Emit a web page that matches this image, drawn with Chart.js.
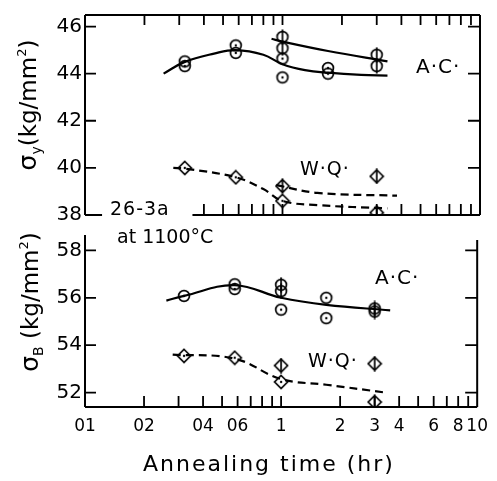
<!DOCTYPE html>
<html>
<head>
<meta charset="utf-8">
<script src="https://cdn.jsdelivr.net/npm/chart.js@4.4.1/dist/chart.umd.min.js"></script>
<style>
  html, body { margin: 0; padding: 0; background: #fff; }
  #wrap { position: relative; width: 497px; height: 481px; }
  canvas { position: absolute; left: 0; }
</style>
</head>
<body>
<div id="wrap">
  <canvas id="topCanvas" width="497" height="230" style="top:0px"></canvas>
  <canvas id="bottomCanvas" width="497" height="261" style="top:220px"></canvas>
</div>
<script>
// ---- x axis (annealing time, hr, log) ----
const timeTicks = [0.1, 0.2, 0.4, 0.6, 1, 2, 3, 4, 6, 8, 10];
const timeTickLabels = ['01', '02', '04', '06', '1', '2', '3', '4', '6', '8', '10'];
const timeMinorTicks = [0.2, 0.3, 0.4, 0.5, 0.6, 0.7, 0.8, 0.9, 1, 2, 3, 4, 5, 6, 7, 8, 9];

// ---- top panel: yield stress sigma_y (kg/mm2) ----
const yTicksTop = [38, 40, 42, 44, 46];
const acYieldTimes = [0.32, 0.32, 0.58, 0.58, 1, 1, 1.7, 1.7];
const acYieldValues = [44.52, 44.32, 45.2, 44.88, 44.64, 43.84, 44.24, 44.0];
const acYieldPhiTimes = [1, 1, 3, 3];
const acYieldPhiValues = [45.56, 45.08, 44.8, 44.32];
const acYieldCurveTimes = [0.25, 0.32, 0.45, 0.58, 0.8, 1, 1.3, 1.7, 2.5, 3.4];
const acYieldCurveValues = [44.0, 44.5, 44.85, 45.0, 44.8, 44.4, 44.15, 44.04, 43.95, 43.92];
const acYieldPhiCurveTimes = [0.88, 1, 1.7, 3.4];
const acYieldPhiCurveValues = [45.48, 45.36, 44.96, 44.52];

const wqYieldTimes = [0.32, 0.58, 1];
const wqYieldValues = [40.0, 39.6, 38.6];
const wqYieldPhiTimes = [1, 3, 3];
const wqYieldPhiValues = [39.23, 39.64, 38.1];
const wqYieldCurveTimes = [0.28, 0.32, 0.58, 0.8, 1, 1.5, 3.4];
const wqYieldCurveValues = [40.0, 39.97, 39.6, 39.1, 38.6, 38.42, 38.28];
const wqYieldPhiCurveTimes = [0.93, 1.5, 3.8];
const wqYieldPhiCurveValues = [39.27, 38.94, 38.82];

// ---- bottom panel: tensile strength sigma_B (kg/mm2) ----
const yTicksBottom = [52, 54, 56, 58];
const acTensileTimes = [0.32, 0.58, 0.58, 1, 1.7, 1.7];
const acTensileValues = [56.08, 56.57, 56.37, 55.5, 56.0, 55.14];
const acTensilePhiTimes = [1, 1, 3, 3];
const acTensilePhiValues = [56.55, 56.28, 55.55, 55.42];
const acTensileCurveTimes = [0.26, 0.32, 0.58, 1, 1.7, 3.6];
const acTensileCurveValues = [55.88, 56.08, 56.53, 56.0, 55.7, 55.47];

const wqTensileTimes = [0.32, 0.58, 1];
const wqTensileValues = [53.55, 53.47, 52.45];
const wqTensilePhiTimes = [1, 3, 3];
const wqTensilePhiValues = [53.14, 53.22, 51.6];
const wqTensileCurveTimes = [0.28, 0.58, 1, 1.7, 3.4];
const wqTensileCurveValues = [53.6, 53.43, 52.57, 52.33, 52.0];

const FONT = '"DejaVu Sans", sans-serif';

function zip(xs, ys) {
  return xs.map((x, i) => ({ x: x, y: ys[i] }));
}

// marker images: circle / diamond, with a centre dot or a vertical bar
function makeMarker(shape, bar) {
  const c = document.createElement('canvas');
  c.width = 16; c.height = 16;
  const g = c.getContext('2d');
  g.strokeStyle = '#000';
  g.fillStyle = '#000';
  g.lineWidth = 1.7;
  g.beginPath();
  if (shape === 'circle') {
    g.arc(8, 8, 5.4, 0, Math.PI * 2);
  } else {
    g.moveTo(8, 1.5); g.lineTo(14.5, 8); g.lineTo(8, 14.5); g.lineTo(1.5, 8); g.closePath();
  }
  g.stroke();
  if (bar) {
    g.beginPath(); g.moveTo(8, 0.5); g.lineTo(8, 15.5); g.stroke();
  } else {
    g.beginPath(); g.arc(8, 8, 1.2, 0, Math.PI * 2); g.fill();
  }
  return c;
}
const circleDot = makeMarker('circle', false);
const circlePhi = makeMarker('circle', true);
const diamondDot = makeMarker('diamond', false);
const diamondPhi = makeMarker('diamond', true);

function pointSet(xs, ys, marker) {
  return {
    data: zip(xs, ys), pointStyle: marker, pointRadius: 8, showLine: false,
    borderColor: '#000', backgroundColor: '#000'
  };
}
function curveSet(xs, ys, dashed) {
  return {
    data: zip(xs, ys), pointRadius: 0, borderColor: '#000', borderWidth: 2.2,
    borderDash: dashed ? [8, 5] : [], tension: 0.4, fill: false
  };
}

function drawSigmaTitle(ctx, cx, cy, sub, gap) {
  ctx.save();
  ctx.translate(cx, cy);
  ctx.rotate(-Math.PI / 2);
  const parts = [
    { t: 'σ', f: '25px', dy: 8 },
    { t: sub, f: '14px', dy: 13 },
    { t: gap + '(kg/mm', f: '23px', dy: 8 },
    { t: '2', f: '13px', dy: -2 },
    { t: ')', f: '23px', dy: 8 }
  ];
  let w = 0;
  parts.forEach(p => { ctx.font = p.f + ' ' + FONT; p.w = ctx.measureText(p.t).width; w += p.w; });
  let x = -w / 2;
  ctx.fillStyle = '#000';
  ctx.textBaseline = 'alphabetic';
  parts.forEach(p => { ctx.font = p.f + ' ' + FONT; ctx.fillText(p.t, x, p.dy); x += p.w; });
  ctx.restore();
}

// frame, inward ticks, titles and labels (settings kept in the closure)
function makeFrame(cfg) {
  return {
    id: 'frame',
    afterDraw(chart) {
      const { ctx, chartArea: a } = chart;
      const xs = chart.scales.x, ys = chart.scales.y;
      ctx.save();
      ctx.setLineDash([]);
      ctx.strokeStyle = '#000';
      ctx.lineWidth = 2;
      ctx.beginPath();
      ctx.moveTo(a.left, a.top); ctx.lineTo(a.left, a.bottom);
      ctx.moveTo(a.right, a.top + cfg.rightGap); ctx.lineTo(a.right, a.bottom);
      if (cfg.bottomGap) {
        ctx.moveTo(a.left, a.bottom); ctx.lineTo(xs.getPixelForValue(cfg.bottomGap[0]), a.bottom);
        ctx.moveTo(xs.getPixelForValue(cfg.bottomGap[1]), a.bottom); ctx.lineTo(a.right, a.bottom);
      } else {
        ctx.moveTo(a.left, a.bottom); ctx.lineTo(a.right, a.bottom);
      }
      if (cfg.topBorder) { ctx.moveTo(a.left, a.top); ctx.lineTo(a.right, a.top); }
      ctx.stroke();

      ctx.lineWidth = 1.8;
      ctx.beginPath();
      cfg.yTicks.forEach(v => {
        const py = ys.getPixelForValue(v);
        ctx.moveTo(a.left, py); ctx.lineTo(a.left + 11, py);
        if (py > a.top + cfg.rightGap + 5 && py < a.bottom - 2) {
          ctx.moveTo(a.right, py); ctx.lineTo(a.right - 12, py);
        }
      });
      timeMinorTicks.forEach(t => {
        const px = xs.getPixelForValue(t);
        if (!cfg.bottomGap || t > cfg.bottomGap[1]) {
          ctx.moveTo(px, a.bottom); ctx.lineTo(px, a.bottom - 11);
        }
        if (cfg.topBorder) { ctx.moveTo(px, a.top); ctx.lineTo(px, a.top + 10); }
      });
      ctx.stroke();

      drawSigmaTitle(ctx, cfg.title.x, cfg.title.y, cfg.title.sub, cfg.title.gap);

      ctx.fillStyle = '#000';
      ctx.textBaseline = 'middle';
      ctx.textAlign = 'left';
      cfg.texts.forEach(t => {
        ctx.font = t.size + 'px ' + FONT;
        ctx.letterSpacing = (t.spacing || 0) + 'px';
        ctx.fillText(t.text, t.x, t.y);
      });
      ctx.letterSpacing = '0px';
      ctx.restore();
    }
  };
}

function baseOptions(yMin, yMax, yTicks, xHeight, padTop, showX) {
  return {
    responsive: false,
    animation: false,
    devicePixelRatio: 1,
    layout: { padding: { top: padTop, right: 17, left: 0, bottom: 0 } },
    plugins: { legend: { display: false }, tooltip: { enabled: false } },
    scales: {
      x: {
        type: 'logarithmic', min: 0.1, max: 10, position: 'bottom',
        grid: { display: false, drawTicks: false },
        border: { display: false },
        afterBuildTicks: s => { s.ticks = timeTicks.map(v => ({ value: v })); },
        afterFit: s => { s.height = xHeight; },
        ticks: {
          display: showX, autoSkip: false, maxRotation: 0, padding: 9,
          color: '#000', font: { family: FONT, size: 17 },
          callback: v => timeTickLabels[timeTicks.indexOf(v)]
        }
      },
      y: {
        type: 'linear', min: yMin, max: yMax, position: 'left',
        grid: { display: false, drawTicks: false },
        border: { display: false },
        afterBuildTicks: s => { s.ticks = yTicks.map(v => ({ value: v })); },
        afterFit: s => { s.width = 85; },
        ticks: { padding: 3, color: '#000', font: { family: FONT, size: 20 } }
      }
    }
  };
}

new Chart(document.getElementById('topCanvas'), {
  type: 'line',
  data: {
    datasets: [
      curveSet(acYieldCurveTimes, acYieldCurveValues, false),
      curveSet(acYieldPhiCurveTimes, acYieldPhiCurveValues, false),
      curveSet(wqYieldCurveTimes, wqYieldCurveValues, true),
      curveSet(wqYieldPhiCurveTimes, wqYieldPhiCurveValues, true),
      pointSet(acYieldTimes, acYieldValues, circleDot),
      pointSet(acYieldPhiTimes, acYieldPhiValues, circlePhi),
      pointSet(wqYieldTimes, wqYieldValues, diamondDot),
      pointSet(wqYieldPhiTimes, wqYieldPhiValues, diamondPhi)
    ]
  },
  options: baseOptions(38, 46.49, yTicksTop, 14, 10, false),
  plugins: [makeFrame({
    rightGap: 0, topBorder: true, bottomGap: [0.122, 0.35], yTicks: yTicksTop,
    title: { x: 28, y: 105, sub: 'y', gap: '' },
    texts: [
      { text: 'A·C·', x: 416, y: 68, size: 20, spacing: 1 },
      { text: 'W·Q·', x: 300, y: 170, size: 19, spacing: 1 },
      { text: '26-3a', x: 110, y: 210, size: 19, spacing: 1 }
    ]
  })]
});

new Chart(document.getElementById('bottomCanvas'), {
  type: 'line',
  data: {
    datasets: [
      curveSet(acTensileCurveTimes, acTensileCurveValues, false),
      curveSet(wqTensileCurveTimes, wqTensileCurveValues, true),
      pointSet(acTensileTimes, acTensileValues, circleDot),
      pointSet(acTensilePhiTimes, acTensilePhiValues, circlePhi),
      pointSet(wqTensileTimes, wqTensileValues, diamondDot),
      pointSet(wqTensilePhiTimes, wqTensilePhiValues, diamondPhi)
    ]
  },
  options: baseOptions(51.39, 58.65, yTicksBottom, 74, 8, true),
  plugins: [makeFrame({
    rightGap: 5, topBorder: false, bottomGap: null, yTicks: yTicksBottom,
    title: { x: 30, y: 82, sub: 'B', gap: ' ' },
    texts: [
      { text: 'A·C·', x: 375, y: 59, size: 20, spacing: 1 },
      { text: 'W·Q·', x: 308, y: 142, size: 19, spacing: 1 },
      { text: 'at 1100°C', x: 117, y: 18, size: 19, spacing: 0 },
      { text: 'Annealing time (hr)', x: 143, y: 245, size: 22, spacing: 2 }
    ]
  })]
});
</script>
</body>
</html>
